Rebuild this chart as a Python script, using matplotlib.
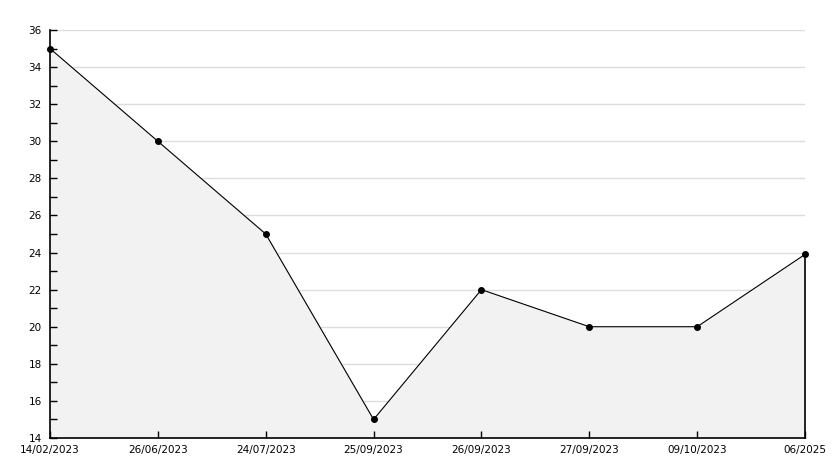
import numpy as np
import matplotlib.pyplot as plt

dates = ['14/02/2023', '26/06/2023', '24/07/2023', '25/09/2023',
         '26/09/2023', '27/09/2023', '09/10/2023', '06/2025']
values = [35, 30, 25, 15, 22, 20, 20, 23.9]

x = np.arange(len(dates))
y_major = np.arange(14, 37, 2)
y_minor = np.arange(15, 36, 2)

fig = plt.figure(figsize=(8.34, 4.68), dpi=100)
ax = fig.add_axes([50 / 834, 30 / 468, 755 / 834, 408 / 468])

ax.set_ylim(14, 36)
ax.set_xlim(0, len(dates) - 1)
ax.set_yticks(y_major)
ax.set_yticks(y_minor, minor=True)

# grid lines under the shaded area
for yv in y_major[1:]:
    ax.axhline(yv, color='#dcdcdc', linewidth=1, zorder=1)

ax.fill_between(x, values, 14, color='#f2f2f2', zorder=2)
ax.plot([x[-1], x[-1]], [14, values[-1]], color='black', linewidth=1.2,
        zorder=3, clip_on=False)
ax.plot(x, values, color='black', linewidth=0.8, marker='o', markersize=4,
        zorder=4, clip_on=False)

ax.set_xticks(x)
ax.set_xticklabels(dates)
ax.set_axisbelow(False)
ax.tick_params(axis='both', which='both', direction='in', length=5, width=1,
               labelsize=7.5, colors='black')
ax.tick_params(axis='x', pad=5)
ax.tick_params(axis='y', pad=6)

ax.spines['top'].set_visible(False)
ax.spines['right'].set_visible(False)
ax.spines['left'].set_linewidth(1.2)
ax.spines['bottom'].set_linewidth(1.2)
for s in ax.spines.values():
    s.set_zorder(5)

fig.savefig('out.png', dpi=100)
